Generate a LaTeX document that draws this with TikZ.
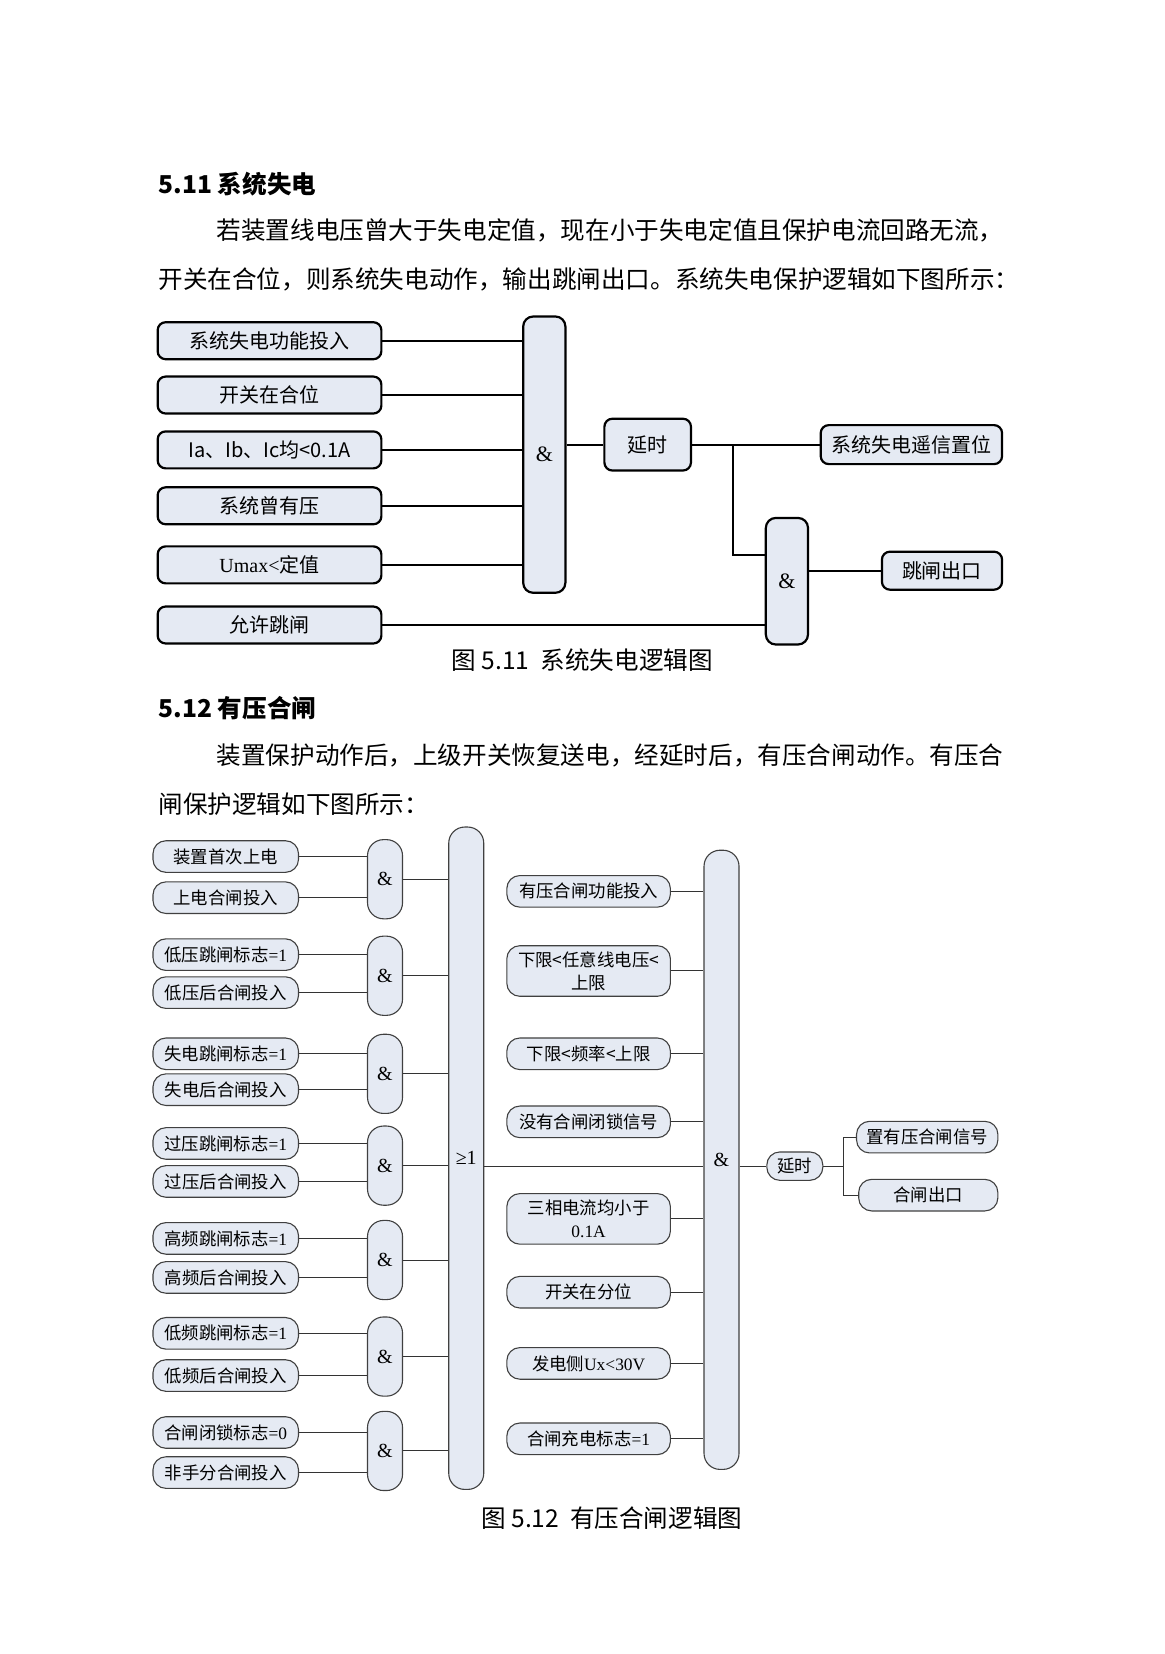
\documentclass[tikz,border=0pt]{standalone}
\usepackage{fontspec}
\setmainfont{Noto Sans CJK SC}
\newfontfamily\tnr{Liberation Serif}
\usetikzlibrary{calc}
\definecolor{boxfill}{RGB}{229,234,243}
\tikzstyle{txt}=[anchor=west,inner sep=0pt,font=\fontsize{12.3}{14}\selectfont]
\tikzstyle{head}=[txt,font=\fontsize{12.3}{14}\selectfont\bfseries]
\tikzstyle{inA}=[draw=black,line width=1.1pt,fill=boxfill,rounded corners=4pt,minimum width=111.9pt,minimum height=18.5pt,inner sep=0pt,font=\fontsize{10}{12}\selectfont]
\tikzstyle{gateA}=[draw=black,line width=1.1pt,fill=boxfill,rounded corners=5pt,minimum width=21.1pt,inner sep=0pt,font=\fontsize{11}{12}\selectfont\tnr]
\tikzstyle{wireA}=[draw,line width=0.9pt]
\tikzstyle{inB}=[draw=black!75,line width=0.55pt,fill=boxfill,rounded corners=6.5pt,minimum height=15.8pt,inner sep=0pt,align=center,font=\fontsize{8.7}{11.5}\selectfont]
\tikzstyle{gateB}=[draw=black!75,line width=0.55pt,fill=boxfill,rounded corners=8pt,minimum width=17.5pt,inner sep=0pt,font=\fontsize{10}{12}\selectfont\tnr]
\tikzstyle{wireB}=[draw,line width=0.5pt,black!80]

\begin{document}
\begin{tikzpicture}[x=0.5276pt,y=-0.5276pt]
    \path[use as bounding box,fill=white] (0,0) rectangle (1104,1568);

    % Text of section 5.11
    \node[head] (h1) at (150,175) {5.11 系统失电};
    \node[txt] (p1a) at (205,218) {若装置线电压曾大于失电定值，现在小于失电定值且保护电流回路无流，};
    \node[txt] (p1b) at (150,265) {开关在合位，则系统失电动作，输出跳闸出口。系统失电保护逻辑如下图所示：};

    % First diagram: inputs and gates
    \foreach \y/\name/\txt in {323/a1/系统失电功能投入, 374.5/a2/开关在合位, 426.5/a3/{Ia、Ib、Ic均<0.1A}, 479.5/a4/系统曾有压, 535.5/a5/{{\tnr Umax<}定值}, 592.5/a6/允许跳闸}
        \node[inA] (\name) at (255.5,\y) {\txt};
    \node[gateA,minimum height=138.2pt] (g1) at (516,431) {\&};
    \node[gateA,minimum height=63.3pt] (g2) at (746,551) {\&};
    \node[inA,minimum width=43.3pt,minimum height=25.9pt] (t1) at (614,421.5) {延时};
    \node[inA,minimum width=90.7pt,minimum height=19.5pt] (r1) at (864,421.5) {系统失电遥信置位};
    \node[inA,minimum width=60.1pt,minimum height=19pt] (r2) at (893,541) {跳闸出口};

    % Connect inputs to the gates
    \foreach \name in {a1,a2,a3,a4,a5}
        \path[wireA] (\name.east) -- (\name.east -| g1.west);
    \path[wireA] (t1.west -| g1.east) -- (t1.west);
    \path[wireA] (t1.east) -- (r1.west);
    \coordinate (br1) at (695,421.5);
    \coordinate (g2a) at ($(g2.west)+(0,-25)$);
    \path[wireA] (br1) |- (g2a);
    \path[wireA] (a6.east) -- (a6.east -| g2.west);
    \path[wireA] (r2.west -| g2.east) -- (r2.west);
    \node[inner sep=0pt,font=\fontsize{12.3}{14}\selectfont] (cap1) at (552,626) {图 5.11\ \ 系统失电逻辑图};

    % Text of section 5.12
    \node[head] (h2) at (150,671) {5.12 有压合闸};
    \node[txt] (p2a) at (205,716) {装置保护动作后，上级开关恢复送电，经延时后，有压合闸动作。有压合};
    \node[txt] (p2b) at (150,762) {闸保护逻辑如下图所示：};

    % Second diagram: left inputs
    \foreach \y/\name/\txt in {812/b1/装置首次上电, 851/b2/上电合闸投入, 905/b3/低压跳闸标志{\tnr =1}, 941/b4/低压后合闸投入, 999/b5/失电跳闸标志{\tnr =1}, 1033/b6/失电后合闸投入, 1084/b7/过压跳闸标志{\tnr =1}, 1120/b8/过压后合闸投入, 1174/b9/高频跳闸标志{\tnr =1}, 1211/b10/高频后合闸投入, 1264/b11/低频跳闸标志{\tnr =1}, 1304/b12/低频后合闸投入, 1358/b13/合闸闭锁标志{\tnr =0}, 1396/b14/非手分合闸投入}
        \node[inB,minimum width=72.8pt] (\name) at (214,\y) {\txt};
    \foreach \y/\name in {833.5/s1, 925/s2, 1018/s3, 1105/s4, 1194.5/s5, 1286/s6, 1375.5/s7}
        \node[gateB,minimum height=39.6pt] (\name) at (365,\y) {\&};
    \node[gateB,minimum height=331.3pt] (orG) at (442,1098) {≥1};
    \node[gateB,minimum height=309.7pt] (andG) at (684,1099.5) {\&};

    % Second diagram: middle inputs
    \foreach \y/\name/\h/\txt in {845/m1/15.8/有压合闸功能投入, 920.5/m2/25.3/{下限<任意线电压<\\上限}, 999/m3/15.8/下限<频率<上限, 1063.5/m4/15.8/没有合闸闭锁信号, 1155.5/m5/25.3/{三相电流均小于\\{\tnr 0.1A}}, 1225/m6/15.8/开关在分位, 1292.5/m7/15.8/发电侧{\tnr Ux<30V}, 1364/m8/15.8/合闸充电标志{\tnr =1}}
        \node[inB,minimum width=81.8pt,minimum height=\h pt] (\name) at (558,\y) {\txt};
    \node[inB,minimum width=28pt,minimum height=14.2pt] (t2) at (753.5,1105.5) {延时};
    \node[inB,minimum width=70.7pt] (o1) at (879,1078) {置有压合闸信号};
    \node[inB,minimum width=69.6pt] (o2) at (880,1133) {合闸出口};

    % Connect them
    \foreach \i in {1,...,7}{
        \pgfmathtruncatemacro\ia{2*\i-1}
        \pgfmathtruncatemacro\ib{2*\i}
        \path[wireB] (b\ia.east) -- (b\ia.east -| s\i.west);
        \path[wireB] (b\ib.east) -- (b\ib.east -| s\i.west);
        \path[wireB] (s\i.east) -- (s\i.east -| orG.west);
    }
    \foreach \name in {m1,m2,m3,m4,m5,m6,m7,m8}
        \path[wireB] (\name.east) -- (\name.east -| andG.west);
    \path[wireB] (t2.west -| orG.east) -- (t2.west -| andG.west);
    \path[wireB] (t2.west -| andG.east) -- (t2.west);
    \coordinate (br2) at (800,1105.5);
    \path[wireB] (t2.east) -- (br2);
    \path[wireB] (o1.west) -| (br2) |- (o2.west);
    \node[inner sep=0pt,font=\fontsize{12.3}{14}\selectfont] (cap2) at (580,1439) {图 5.12\ \ 有压合闸逻辑图};
\end{tikzpicture}
\end{document}
